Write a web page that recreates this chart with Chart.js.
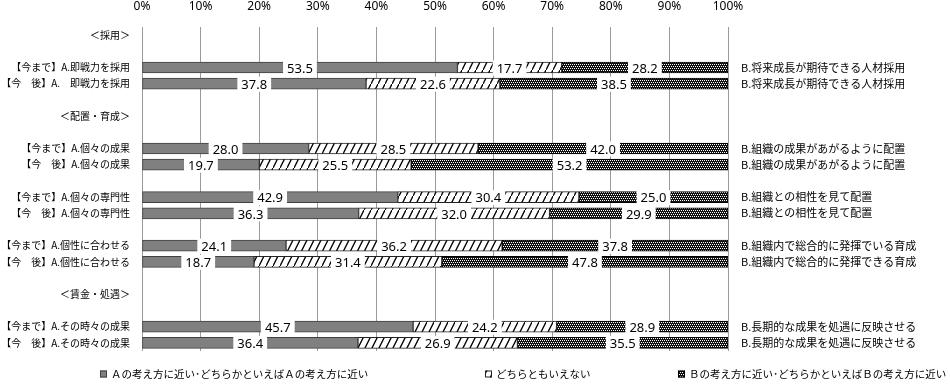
<!DOCTYPE html>
<html><head><meta charset="utf-8">
<script src="https://cdn.jsdelivr.net/npm/chart.js@4/dist/chart.umd.min.js"></script>
<style>html,body{margin:0;padding:0;background:#fff}#wrap{width:950px;height:384px}</style>
</head><body><div id="wrap"><canvas id="c" width="950" height="384"></canvas></div>
<script>
const leftLabels = ["＜採用＞","","【今まで】A.即戦力を採用","【今　後】A.　即戦力を採用","","＜配置・育成＞","","【今まで】A.個々の成果","【今　後】A.個々の成果","","【今まで】A.個々の専門性","【今　後】A.個々の専門性","","【今まで】A.個性に合わせる","【今　後】A.個性に合わせる","","＜賃金・処遇＞","","【今まで】A.その時々の成果","【今　後】A.その時々の成果"];
const rightLabels = ["","","B.将来成長が期待できる人材採用","B.将来成長が期待できる人材採用","","","","B.組織の成果があがるように配置","B.組織の成果があがるように配置","","B.組織との相性を見て配置","B.組織との相性を見て配置","","B.組織内で総合的に発揮でいる育成","B.組織内で総合的に発揮できる育成","","","","B.長期的な成果を処遇に反映させる","B.長期的な成果を処遇に反映させる"];
const aValues = [null,null,53.5,37.8,null,null,null,28.0,19.7,null,42.9,36.3,null,24.1,18.7,null,null,null,45.7,36.4];
const nValues = [null,null,17.7,22.6,null,null,null,28.5,25.5,null,30.4,32.0,null,36.2,31.4,null,null,null,24.2,26.9];
const bValues = [null,null,28.2,38.5,null,null,null,42.0,53.2,null,25.0,29.9,null,37.8,47.8,null,null,null,28.9,35.5];
const seriesNames = ["Ａの考え方に近い･どちらかといえばＡの考え方に近い","どちらともいえない","Ｂの考え方に近い･どちらかといえばＢの考え方に近い"];
const xTicks = [0,10,20,30,40,50,60,70,80,90,100];

const canvas = document.getElementById('c');
const ctx = canvas.getContext('2d');
function hatchPattern(){
  const c=document.createElement('canvas'); c.width=7; c.height=14;
  const x=c.getContext('2d'); x.fillStyle='#fff'; x.fillRect(0,0,7,14);
  x.strokeStyle='#000'; x.lineWidth=1.3; x.beginPath();
  x.moveTo(-1,16); x.lineTo(8,-2); x.stroke();
  return ctx.createPattern(c,'repeat');
}
function checkPattern(){
  const c=document.createElement('canvas'); c.width=4; c.height=4;
  const x=c.getContext('2d'); x.fillStyle='#111'; x.fillRect(0,0,4,4);
  x.fillStyle='#fff'; [[0,0],[2,0],[1,2],[3,2]].forEach(p=>x.fillRect(p[0],p[1],1,1));
  return ctx.createPattern(c,'repeat');
}
const fills = ['#808080', hatchPattern(), checkPattern()];
const borders = ['#404040','#222','#000'];
const raw = [aValues,nValues,bValues];
const totals = aValues.map((v,i)=> v==null?null:(aValues[i]+nValues[i]+bValues[i]));
const pct = arr => arr.map((v,i)=> v==null?null: v/totals[i]*100);

const labelPlugin = {
  id:'segLabels',
  afterDatasetsDraw(chart){
    const c=chart.ctx; c.save();
    c.font='13px "Noto Sans"'; c.textAlign='center'; c.textBaseline='middle';
    chart.data.datasets.forEach((ds,di)=>{
      const meta=chart.getDatasetMeta(di);
      meta.data.forEach((el,i)=>{
        const v=raw[di][i]; if(v==null) return;
        const cx=(el.x+el.base)/2, cy=el.y;
        const t=v.toFixed(1); const w=c.measureText(t).width;
        c.fillStyle='#fff'; c.fillRect(cx-w/2-4, cy-7, w+8, 15);
        c.fillStyle='#000'; c.fillText(t, cx, cy+1.5);
      });
    });
    c.restore();
  }
};
const legendPlugin = {
  id:'customLegend',
  afterDraw(chart){
    const c=chart.ctx; c.save();
    const xs=[100,485,678], y=374;
    c.font='10.5px "Noto Sans CJK JP"'; c.textBaseline='middle'; c.textAlign='left';
    seriesNames.forEach((n,i)=>{
      c.fillStyle=fills[i]; c.fillRect(xs[i],y-3.5,7,7);
      c.strokeStyle=borders[i]; c.lineWidth=1; c.strokeRect(xs[i]+0.5,y-3,6,6);
      c.fillStyle='#000'; c.fillText(n, xs[i]+11, y);
    });
    c.restore();
  }
};

new Chart(canvas,{
  type:'bar',
  data:{
    labels:leftLabels,
    datasets:[0,1,2].map(i=>({
      label:seriesNames[i], data:pct(raw[i]),
      backgroundColor:fills[i], borderColor:borders[i], borderWidth:1, borderSkipped:false,
      barThickness:11
    }))
  },
  options:{
    indexAxis:'y', responsive:false, animation:false,
    layout:{padding:{top:0,bottom:33,left:0,right:0}},
    plugins:{legend:{display:false},tooltip:{enabled:false}},
    scales:{
      x:{position:'top',stacked:true,min:0,max:100,
        afterBuildTicks(s){s.ticks=xTicks.map(v=>({value:v}));},
        afterFit(s){s.height=27;},
        ticks:{callback:v=>v+'%',font:{family:'"Noto Sans"',size:12},color:'#000',padding:13},
        grid:{color:'#9a9a9a',lineWidth:1,drawTicks:false},border:{display:false}},
      y:{stacked:true,offset:true,
        afterFit(s){s.width=142;},
        ticks:{autoSkip:false,font:{family:'"Noto Sans CJK JP"',size:10},color:'#000',padding:12},
        grid:{display:false,drawTicks:false},border:{display:false}},
      y2:{type:'category',position:'right',labels:rightLabels,offset:true,
        afterFit(s){s.width=222;},
        ticks:{autoSkip:false,font:{family:'"Noto Sans CJK JP"',size:11},color:'#000',padding:13},
        grid:{display:false,drawTicks:false},border:{display:false}}
    }
  },
  plugins:[labelPlugin,legendPlugin]
});
</script></body></html>
